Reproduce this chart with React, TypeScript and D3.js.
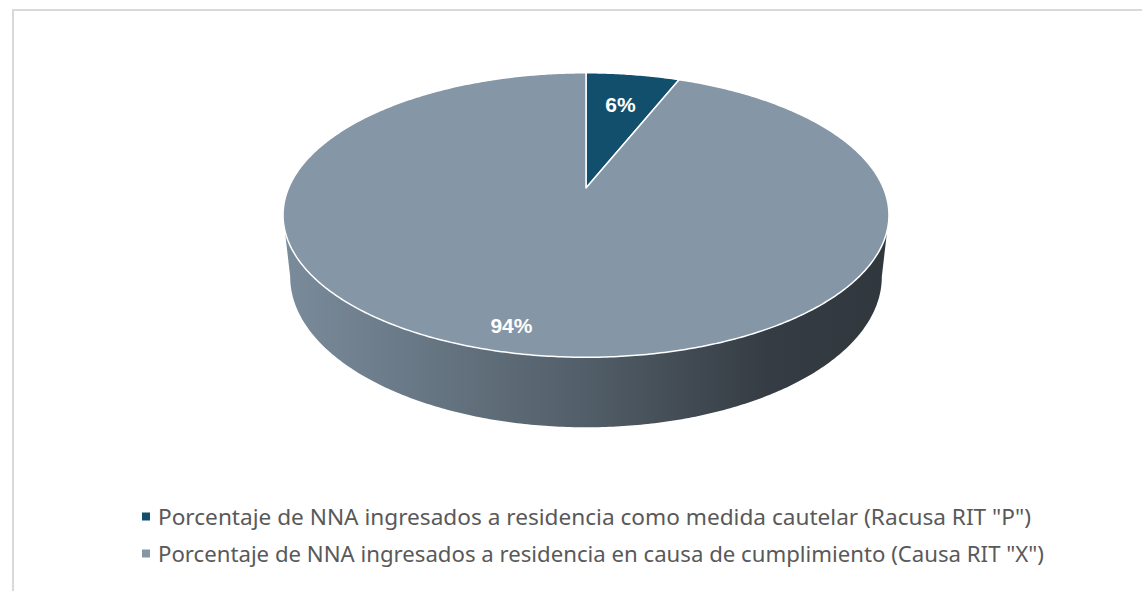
import React, { useEffect, useRef } from 'react';
import * as d3 from 'd3';

const categories = [
  'Porcentaje de NNA ingresados a residencia como medida cautelar (Racusa RIT "P")',
  'Porcentaje de NNA ingresados a residencia en causa de cumplimiento (Causa RIT "X")',
];
const values = [6, 94];
const labels = ['6%', '94%'];
const colors = ['#124f6c', '#8596a6'];

const W = 1142;
const H = 591;

const App: React.FC = () => {
  const svgRef = useRef<SVGSVGElement>(null);

  useEffect(() => {
    if (!svgRef.current) return;
    document.body.style.margin = '0';
    document.body.style.overflow = 'hidden';

    const svg = d3.select(svgRef.current);
    svg.selectAll('*').remove();

    // chart frame (cropped on right and bottom)
    svg.append('rect')
      .attr('x', 13).attr('y', 10)
      .attr('width', W + 20).attr('height', H + 20)
      .attr('fill', 'none')
      .attr('stroke', '#d9d9d9')
      .attr('stroke-width', 2);

    // perspective view of the pie
    const cx = 586, cy = 188;
    const phi = 27.45 * Math.PI / 180;
    const sinP = Math.sin(phi), cosP = Math.cos(phi);
    const D = 4.67;
    const f = 1389;
    const depthH = 0.236;

    const project = (r: number, theta: number, z: number): [number, number] => {
      const x = r * Math.sin(theta);
      const y = r * Math.cos(theta);
      const dep = D + y * cosP - z * sinP;
      return [cx + f * x / dep, cy - f * (y * sinP + z * cosP) / dep];
    };

    const line = d3.line<[number, number]>();
    const arcPts = (a0: number, a1: number, z: number) => {
      const n = Math.max(8, Math.ceil(Math.abs(a1 - a0) / 0.01));
      return d3.range(n + 1).map(i => project(1, a0 + (a1 - a0) * i / n, z));
    };

    const pie = d3.pie<number>().sort(null).startAngle(0).endAngle(2 * Math.PI);
    const arcs = pie(values);

    // side shading
    const defs = svg.append('defs');
    const grad = defs.append('linearGradient')
      .attr('id', 'side')
      .attr('gradientUnits', 'userSpaceOnUse')
      .attr('x1', 284).attr('x2', 889).attr('y1', 0).attr('y2', 0);
    grad.append('stop').attr('offset', 0).attr('stop-color', '#7a8b9b');
    grad.append('stop').attr('offset', 0.45).attr('stop-color', '#56636e');
    grad.append('stop').attr('offset', 0.8).attr('stop-color', '#353c43');
    grad.append('stop').attr('offset', 1).attr('stop-color', '#30373d');

    const tTop = Math.acos(-cosP / D);
    const tBot = Math.acos(-cosP / (D + depthH * sinP));
    const sidePts = [
      ...arcPts(tTop, 2 * Math.PI - tTop, 0),
      ...arcPts(2 * Math.PI - tBot, tBot, -depthH),
    ];
    svg.append('path')
      .attr('d', line(sidePts) + 'Z')
      .attr('fill', 'url(#side)');

    // top faces
    arcs.forEach((a, i) => {
      const pts = [project(0, 0, 0), ...arcPts(a.startAngle, a.endAngle, 0)];
      svg.append('path')
        .attr('d', line(pts) + 'Z')
        .attr('fill', colors[i])
        .attr('stroke', '#ffffff')
        .attr('stroke-width', 1.5)
        .attr('stroke-linejoin', 'round');
    });

    // data labels
    arcs.forEach((a, i) => {
      const mid = (a.startAngle + a.endAngle) / 2;
      const big = a.endAngle - a.startAngle > Math.PI;
      const [lx, ly] = big
        ? project(0.87, mid + 0.056, 0)
        : project(0.7, mid, 0);
      svg.append('text')
        .attr('x', lx).attr('y', ly)
        .attr('text-anchor', 'middle')
        .attr('dominant-baseline', 'central')
        .style('font-family', '"Liberation Sans", Arial, sans-serif')
        .style('font-weight', 'bold')
        .style('font-size', '21px')
        .style('fill', '#ffffff')
        .text(labels[i]);
    });

    // legend
    const legendY = d3.scalePoint<string>().domain(categories).range([517, 554]);
    const legendWidth = [873, 886];
    const lg = svg.append('g');
    categories.forEach((c, i) => {
      const y = legendY(c)!;
      lg.append('rect')
        .attr('x', 142).attr('y', y - 4.5)
        .attr('width', 8).attr('height', 8)
        .attr('fill', colors[i]);
      lg.append('text')
        .attr('x', 158).attr('y', y)
        .attr('dominant-baseline', 'central')
        .attr('textLength', legendWidth[i])
        .attr('lengthAdjust', 'spacingAndGlyphs')
        .style('font-family', '"Noto Sans", sans-serif')
        .style('font-size', '21px')
        .style('fill', '#595959')
        .text(c);
    });
  }, []);

  return <svg ref={svgRef} width={W} height={H} style={{ display: 'block', background: '#ffffff' }} />;
};

export default App;
